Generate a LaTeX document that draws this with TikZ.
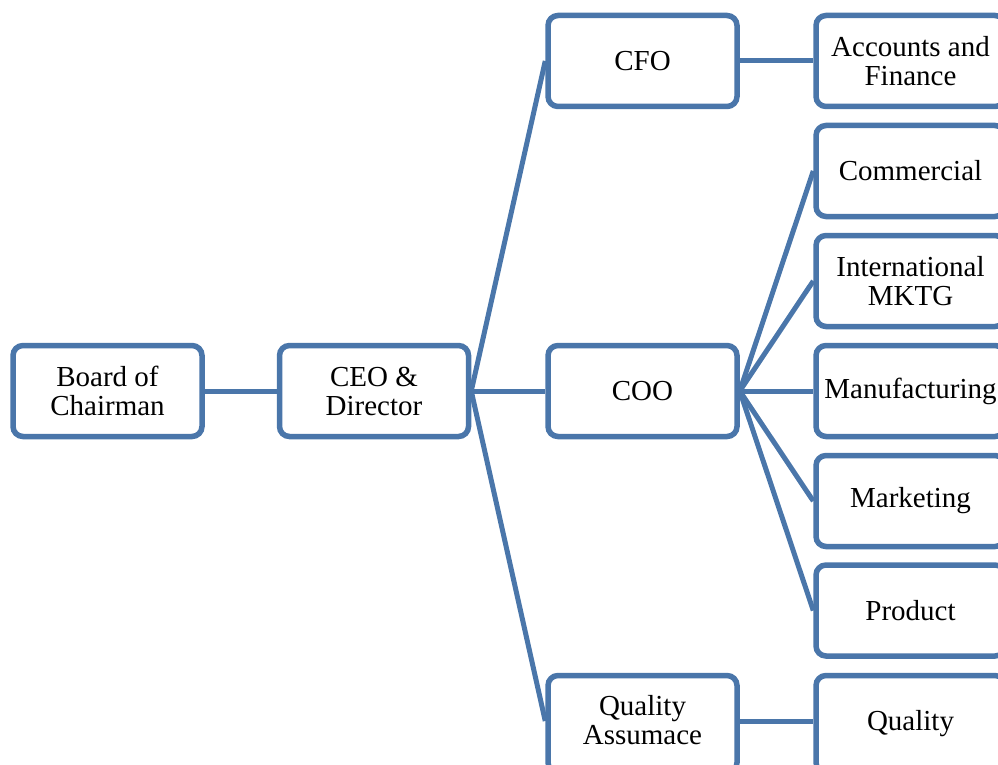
\documentclass[tikz,border=0pt]{standalone}
\usepackage{fontspec}
\setmainfont{Liberation Serif}
\definecolor{boxblue}{RGB}{74,118,170}
\begin{document}
\begin{tikzpicture}[x=1pt,y=-1pt,
  box/.style={draw=boxblue, line width=5.5pt, rounded corners=10pt, fill=white,
    minimum width=189pt, minimum height=91pt, align=center, inner sep=1pt,
    font=\fontsize{29}{29}\selectfont},
  conn/.style={draw=boxblue, line width=5pt}]
\useasboundingbox (0,0) rectangle (998,765);
\clip (0,0) rectangle (998,765);
\node[box] (board) at (107.5,391) {Board of\\Chairman};
\node[box] (ceo) at (374,391) {CEO \&\\Director};
\node[box] (cfo) at (642.5,61) {CFO};
\node[box] (coo) at (642.5,391) {COO};
\node[box, minimum height=97pt, text depth=8pt] (qa) at (642.5,724) {Quality\\Assumace};
\node[box] (acc) at (910.5,61) {Accounts and\\Finance};
\node[box] (com) at (910.5,171) {Commercial};
\node[box] (int) at (910.5,281) {International\\MKTG};
\node[box] (man) at (910.5,391) {Manufacturing};
\node[box] (mkt) at (910.5,501) {Marketing};
\node[box] (prd) at (910.5,610.5) {Product};
\node[box, minimum height=97pt] (qual) at (910.5,724) {\raisebox{6pt}{Quality}};
\draw[conn] (board.east) -- (ceo.west);
\draw[conn] (ceo.east) -- (cfo.west);
\draw[conn] (ceo.east) -- (coo.west);
\draw[conn] (ceo.east) -- ([yshift=3pt]qa.west);
\draw[conn] (cfo.east) -- (acc.west);
\draw[conn] (coo.east) -- (com.west);
\draw[conn] (coo.east) -- (int.west);
\draw[conn] (coo.east) -- (man.west);
\draw[conn] (coo.east) -- (mkt.west);
\draw[conn] (coo.east) -- (prd.west);
\draw[conn] ([yshift=3pt]qa.east) -- ([yshift=3pt]qual.west);
\end{tikzpicture}
\end{document}
